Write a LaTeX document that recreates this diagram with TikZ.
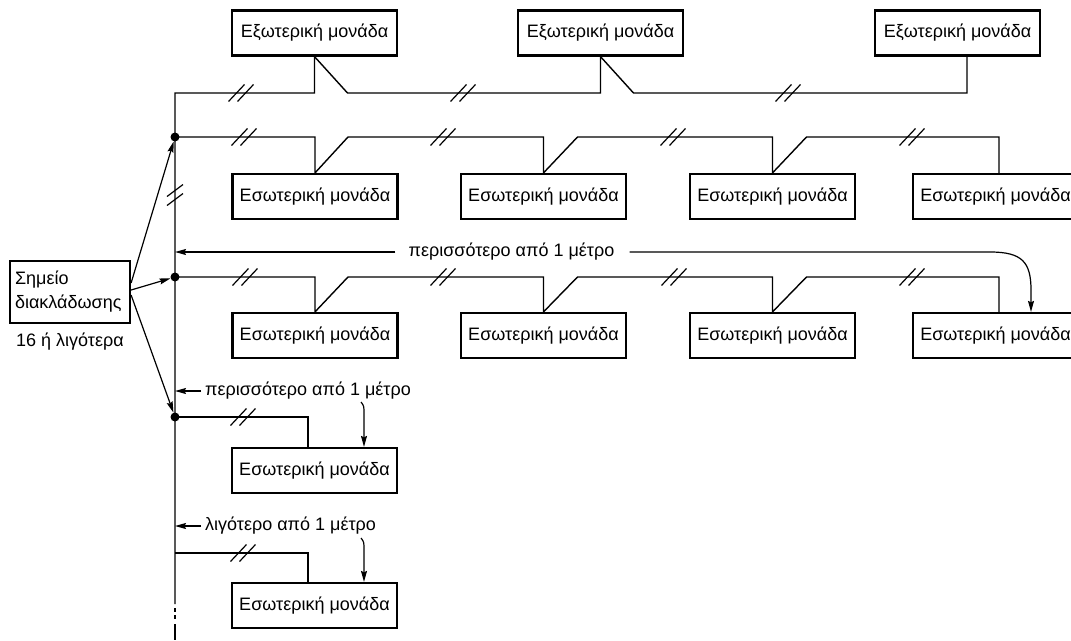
\documentclass[tikz,border=0pt]{standalone}
\usepackage{fontspec}
\setmainfont{Liberation Sans}
\usetikzlibrary{arrows.meta}
\begin{document}
\begin{tikzpicture}[x=1pt,y=-1pt,
  unit/.style={draw, line width=2.2pt, minimum width=165pt, minimum height=45pt, inner sep=0pt, font=\fontsize{18}{21}\selectfont},
  pipe/.style={line width=1.4pt},
  lbl/.style={inner sep=0pt, font=\fontsize{18}{21}\selectfont},
  arr/.style={line width=1.2pt, -{Stealth[length=11pt,width=6pt,inset=1.5pt]}},
  jdot/.style={circle, fill, inner sep=0pt, minimum size=9pt},
  brkh/.pic={\draw[line width=1.2pt] (-12.5,8.5) -- (3.5,-8.5) (-3.5,8.5) -- (12.5,-8.5);},
  brkv/.pic={\draw[line width=1.2pt] (-8,1.5) -- (8,-10.5) (-8,10.5) -- (8,-1.5);}
]
\useasboundingbox (0,0) rectangle (1071,640);

% outdoor units
\node[unit] (O1) at (314.5,33) {Εξωτερική μονάδα};
\node[unit] (O2) at (600.5,33) {Εξωτερική μονάδα};
\node[unit] (O3) at (957.5,33) {Εξωτερική μονάδα};

% indoor units row 1
\node[unit] (I1a) at (315,196.5) {Εσωτερική μονάδα};
\node[unit] (I1b) at (543.5,196.5) {Εσωτερική μονάδα};
\node[unit] (I1c) at (772.5,196.5) {Εσωτερική μονάδα};
\node[unit] (I1d) at (995.5,196.5) {Εσωτερική μονάδα};
% row 2
\node[unit] (I2a) at (315,335.5) {Εσωτερική μονάδα};
\node[unit] (I2b) at (543.5,335.5) {Εσωτερική μονάδα};
\node[unit] (I2c) at (772.5,335.5) {Εσωτερική μονάδα};
\node[unit] (I2d) at (995.5,335.5) {Εσωτερική μονάδα};
% rows 3, 4
\node[unit] (I3) at (314.5,470.5) {Εσωτερική μονάδα};
\node[unit] (I4) at (314.5,605.5) {Εσωτερική μονάδα};

% branch box
\node[draw, line width=2.2pt, minimum width=120pt, minimum height=62pt, inner xsep=5pt, inner ysep=0pt,
      text width=110pt, align=left, font=\fontsize{18}{24}\selectfont] (B) at (70,292) {Σημείο\\διακλάδωσης};
\node[lbl] (Bl) at (70,342) {16 ή λιγότερα};

% junctions
\coordinate (vtop) at (175,93);
\coordinate (r4) at (175,553);
\coordinate (vend) at (175,640);
\node[jdot] (d1) at (175,137) {};
\node[jdot] (d2) at (175,277) {};
\node[jdot] (d3) at (175,417) {};
\coordinate (o3v) at ([xshift=9.5pt]O3.south);
\coordinate (i1dv) at ([xshift=3.5pt]I1d.north);
\coordinate (i2dv) at ([xshift=3.5pt]I2d.north);
\coordinate (i3v) at ([xshift=-6.5pt]I3.north);
\coordinate (i4v) at ([xshift=-6.5pt]I4.north);

% main vertical and outdoor line
\draw[pipe] (175,604) -- (vtop) -- (vtop -| O1.south) -- (O1.south)
  -- ([xshift=33pt]vtop -| O1.south) -- (vtop -| O2.south) -- (O2.south)
  -- ([xshift=33pt]vtop -| O2.south) -- (vtop -| o3v) -- (o3v);
\draw[pipe] (175,608) -- (175,611.5) (175,615) -- (175,618.5);
\draw[pipe] (175,624) -- (vend);

% row 1
\draw[pipe] (d1.center) -- (d1 -| I1a.north) -- (I1a.north)
  -- ([xshift=33pt]d1 -| I1a.north) -- (d1 -| I1b.north) -- (I1b.north)
  -- ([xshift=34pt]d1 -| I1b.north) -- (d1 -| I1c.north) -- (I1c.north)
  -- ([xshift=34pt]d1 -| I1c.north) -- (d1 -| i1dv) -- (i1dv);
% row 2
\draw[pipe] (d2.center) -- (d2 -| I2a.north) -- (I2a.north)
  -- ([xshift=33pt]d2 -| I2a.north) -- (d2 -| I2b.north) -- (I2b.north)
  -- ([xshift=34pt]d2 -| I2b.north) -- (d2 -| I2c.north) -- (I2c.north)
  -- ([xshift=34pt]d2 -| I2c.north) -- (d2 -| i2dv) -- (i2dv);
% row 3, 4
\draw[pipe] (d3.center) -- (d3 -| i3v) -- (i3v);
\draw[pipe] (r4) -- (r4 -| i4v) -- (i4v);

% break marks
\foreach \x in {241,463,788} \pic at (\x,93) {brkh};
\foreach \x in {244,443,673,912} \pic at (\x,137) {brkh};
\foreach \x in {245,443,674,912} \pic at (\x,277) {brkh};
\pic at (243,417) {brkh};
\pic at (243,553) {brkh};
\pic at (175,195) {brkv};

% branch arrows
\draw[arr] ([yshift=9pt]B.east) -- (d1);
\draw[arr] ([yshift=2pt]B.east) -- (d2);
\draw[arr] ([yshift=-3pt]B.east) -- (d3);

% distance labels
\node[lbl] (L2) at (511.5,252) {περισσότερο από 1 μέτρο};
\draw[arr] ([xshift=-13pt]L2.west) -- (L2.west -| vtop);
\draw[arr] ([xshift=15pt]L2.east) -- (990,252) .. controls (1022,252) and (1031,262) .. (1031,290) -- ([xshift=35.5pt]I2d.north);

\node[lbl, anchor=west] (L3) at (205,391) {περισσότερο από 1 μέτρο};
\draw[arr] ([xshift=-4pt]L3.west) -- (L3.west -| vtop);
\draw[arr] (361,402) .. controls (364,406) .. (364,414) -- ([xshift=49.5pt]I3.north);

\node[lbl, anchor=west] (L4) at (205,526) {λιγότερο από 1 μέτρο};
\draw[arr] ([xshift=-4pt]L4.west) -- (L4.west -| vtop);
\draw[arr] (361,538) .. controls (364,542) .. (364,550) -- ([xshift=49.5pt]I4.north);
\end{tikzpicture}
\end{document}
